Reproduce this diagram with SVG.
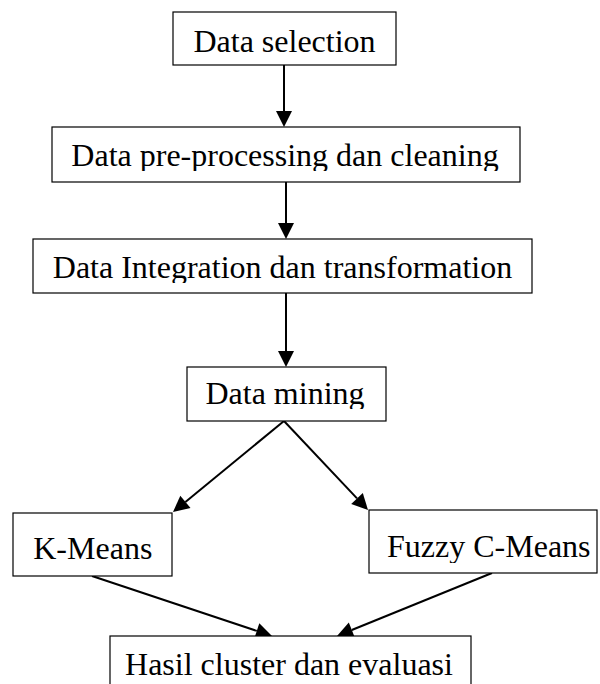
<svg xmlns="http://www.w3.org/2000/svg" width="600" height="684" viewBox="0 0 600 684">
<style>
.box{fill:#fff;stroke:#000;stroke-width:1.2}
.t{font-family:"Liberation Serif","Times New Roman",serif;font-size:32px;fill:#000;text-anchor:middle}
.ln{stroke:#000;stroke-width:2;fill:none}
.hd{fill:#000}
</style>
<defs>
<clipPath id="c2"><rect x="52" y="127" width="468" height="44"/></clipPath>
<clipPath id="c3"><rect x="33" y="239" width="499" height="44"/></clipPath>
<clipPath id="c4"><rect x="187" y="367" width="199" height="42"/></clipPath>
<clipPath id="c6"><rect x="369" y="510" width="228" height="53"/></clipPath>
</defs>
<rect width="600" height="684" fill="#fff"/>
<g id="connectors">
<line class="ln" x1="284" y1="65" x2="284" y2="113"/>
<path class="hd" d="M276,111 L292,111 L284,127 z"/>
<line class="ln" x1="286" y1="182" x2="286" y2="225"/>
<path class="hd" d="M278,223 L294,223 L286,239 z"/>
<line class="ln" x1="286" y1="293" x2="286" y2="353"/>
<path class="hd" d="M278,351 L294,351 L286,367 z"/>
<line class="ln" x1="284" y1="421" x2="185.4" y2="501.9"/>
<path class="hd" d="M173,512 L190.5,508.1 L180.3,495.7 z"/>
<line class="ln" x1="284" y1="421" x2="357" y2="498.4"/>
<path class="hd" d="M368,510 L351.2,503.9 L362.8,492.9 z"/>
<line class="ln" x1="92" y1="576" x2="256.8" y2="630.9"/>
<path class="hd" d="M272,636 L254.3,638.5 L259.3,623.3 z"/>
<line class="ln" x1="492" y1="573" x2="351.8" y2="630"/>
<path class="hd" d="M337,636 L354.8,637.4 L348.8,622.6 z"/>
</g>
<g id="n1"><rect class="box" x="173" y="12" width="223" height="53"/><text class="t" x="284.5" y="52">Data selection</text></g>
<g id="n2"><rect class="box" x="52" y="127" width="468" height="55"/><text class="t" x="285" y="166" clip-path="url(#c2)">Data pre-processing dan cleaning</text></g>
<g id="n3"><rect class="box" x="33" y="239" width="499" height="54"/><text class="t" x="282.5" y="278" clip-path="url(#c3)">Data Integration dan transformation</text></g>
<g id="n4"><rect class="box" x="187" y="367" width="199" height="54"/><text class="t" x="285" y="404" clip-path="url(#c4)">Data mining</text></g>
<g id="n5"><rect class="box" x="13" y="513" width="159" height="63"/><text class="t" x="92.8" y="559">K-Means</text></g>
<g id="n6"><rect class="box" x="369" y="510" width="228" height="63"/><text class="t" x="488.8" y="557" clip-path="url(#c6)">Fuzzy C-Means</text></g>
<g id="n7"><rect class="box" x="110" y="636" width="361" height="70"/><text class="t" x="289" y="675">Hasil cluster dan evaluasi</text></g>
</svg>
